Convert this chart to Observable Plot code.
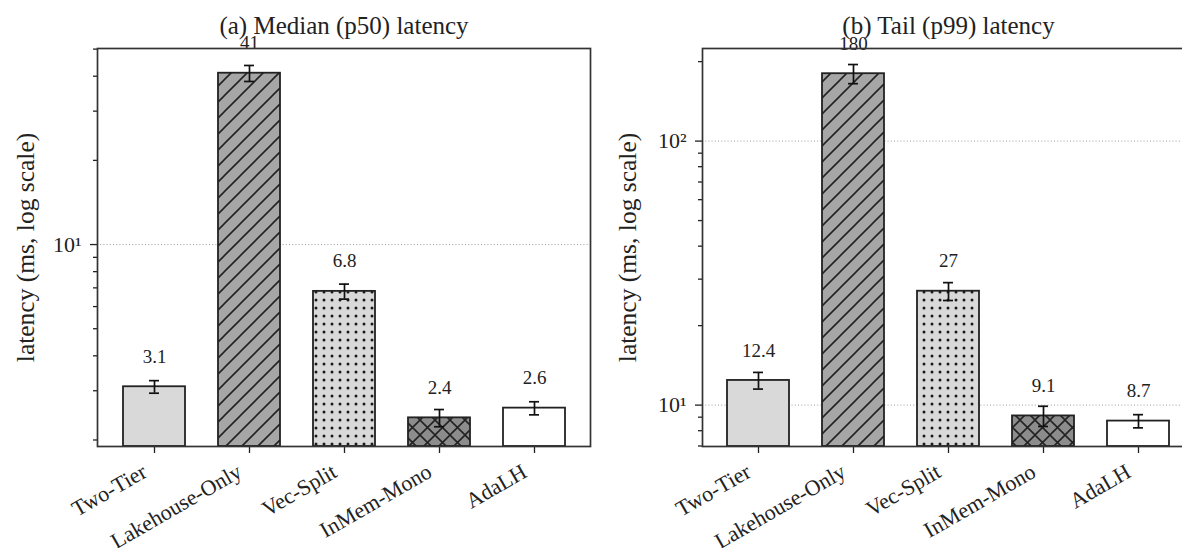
<!DOCTYPE html>
<html><head><meta charset="utf-8">
<script src="https://cdn.jsdelivr.net/npm/d3@7"></script>
<script src="https://cdn.jsdelivr.net/npm/@observablehq/plot@0.6"></script>
<style>
html,body{margin:0;padding:0;background:#fff;}
#wrap{position:relative;width:1182px;height:548px;overflow:hidden;background:#fff;}
#wrap > svg{position:absolute;top:0;}
</style></head><body>
<svg width="0" height="0" style="position:absolute">
  <defs>
    <pattern id="hatch-diag" patternUnits="userSpaceOnUse" width="16" height="16">
      <rect width="16" height="16" fill="#a6a6a6"/>
      <path d="M0,16 L16,0 M-4,4 L4,-4 M12,20 L20,12" stroke="#222" stroke-width="1.6"/>
    </pattern>
    <pattern id="hatch-dots" patternUnits="userSpaceOnUse" width="8" height="8">
      <rect width="8" height="8" fill="#d9d9d9"/>
      <circle cx="4" cy="4" r="1.5" fill="#1a1a1a"/>
    </pattern>
    <pattern id="hatch-cross" patternUnits="userSpaceOnUse" width="15" height="15">
      <rect width="15" height="15" fill="#8c8c8c"/>
      <path d="M0,15 L15,0 M-4,4 L4,-4 M11,19 L19,11 M0,0 L15,15 M-4,11 L4,19 M11,-4 L19,4" stroke="#222" stroke-width="1.6"/>
    </pattern>
  </defs>
</svg>
<div id="wrap"></div>
<script>
const systems = ["Two-Tier", "Lakehouse-Only", "Vec-Split", "InMem-Mono", "AdaLH"];
const p50 = [3.1, 41, 6.8, 2.4, 2.6];
const p50Err = [0.16, 2.7, 0.42, 0.17, 0.14];
const p50Labels = ["3.1", "41", "6.8", "2.4", "2.6"];
const p99 = [12.4, 180, 27, 9.1, 8.7];
const p99Err = [0.9, 15, 2.1, 0.8, 0.5];
const p99Labels = ["12.4", "180", "27", "9.1", "8.7"];
const fills = ["#d9d9d9", "url(#hatch-diag)", "url(#hatch-dots)", "url(#hatch-cross)", "#ffffff"];
const panelTitles = ["(a) Median (p50) latency", "(b) Tail (p99) latency"];
const yLabel = "latency (ms, log scale)";
const majorTicks = [[10], [10, 100]];
const minorTicks = [[2, 3, 4, 5, 6, 7, 8, 9, 20, 30, 40, 50], [7, 8, 9, 20, 30, 40, 50, 60, 70, 80, 90, 200]];

const sup = {"0": "⁰", "1": "¹", "2": "²", "3": "³", "-": "⁻"};
const fmtPow = d => "10" + String(Math.round(Math.log10(d))).split("").map(c => sup[c]).join("");

function panel(i, values, errs, labels, left, mLeft, mRight, labelDx) {
  const data = systems.map((s, j) => ({
    system: s, value: values[j], lo: values[j] - errs[j], hi: values[j] + errs[j],
    label: labels[j], fill: fills[j]
  }));
  const lo = d3.min(data, d => d.lo) * 0.85;
  const hi = d3.max(data, d => d.hi) * 1.15;
  const minor = minorTicks[i].filter(t => t >= lo && t <= hi);
  const svg = Plot.plot({
    width: 600, height: 548,
    marginTop: 48, marginBottom: 102, marginLeft: mLeft, marginRight: mRight,
    style: {fontFamily: "'Liberation Serif', 'Times New Roman', serif", background: "transparent", color: "#222", overflow: "visible"},
    x: {type: "band", domain: systems, paddingInner: 0.35, paddingOuter: 0.25, axis: null},
    y: {type: "log", domain: [lo, hi], axis: null},
    color: {type: "identity"},
    marks: [
      Plot.gridY(majorTicks[i], {stroke: "#9a9a9a", strokeOpacity: 1, strokeDasharray: "1,2.2", strokeWidth: 1}),
      Plot.barY(data, {x: "system", y1: lo, y2: "value", fill: "fill", stroke: "#222", strokeWidth: 1.8}),
      Plot.ruleX(data, {x: "system", y1: "lo", y2: "hi", stroke: "#111", strokeWidth: 1.7}),
      Plot.tickY(data, {x: "system", y: "lo", insetLeft: 26, insetRight: 26, stroke: "#111", strokeWidth: 1.7}),
      Plot.tickY(data, {x: "system", y: "hi", insetLeft: 26, insetRight: 26, stroke: "#111", strokeWidth: 1.7}),
      Plot.text(data, {x: "system", y: "value", text: "label", dy: -30, fontSize: 19, lineAnchor: "middle", fill: "#222"}),
      Plot.axisX({tickSize: 7, tickFormat: () => "", label: null, stroke: "#222", strokeWidth: 1.3}),
      Plot.text(systems, {x: d => d, text: d => d, frameAnchor: "bottom", rotate: -30, textAnchor: "end", lineAnchor: "top", dx: -14, dy: 16, fontSize: 22, fill: "#222"}),
      Plot.axisY(majorTicks[i], {tickSize: 7, tickFormat: fmtPow, fontSize: 22, tickPadding: 9, label: null, stroke: "#222", strokeWidth: 1.3}),
      Plot.axisY(minor, {tickSize: 4, tickFormat: () => "", label: null, stroke: "#222", strokeWidth: 1.3}),
      Plot.frame({stroke: "#333", strokeWidth: 1.7}),
      Plot.text([panelTitles[i]], {frameAnchor: "top", dy: -23, fontSize: 25, textAnchor: "middle", lineAnchor: "middle", fill: "#222"}),
      Plot.text([yLabel], {frameAnchor: "left", dx: labelDx, rotate: -90, fontSize: 25.5, textAnchor: "middle", lineAnchor: "middle", fill: "#222"})
    ]
  });
  svg.style.left = left + "px";
  document.getElementById("wrap").appendChild(svg);
}

panel(0, p50, p50Err, p50Labels, 0, 97, 10, -72);
panel(1, p99, p99Err, p99Labels, 600, 102, 6, -75);
</script>
</body></html>
